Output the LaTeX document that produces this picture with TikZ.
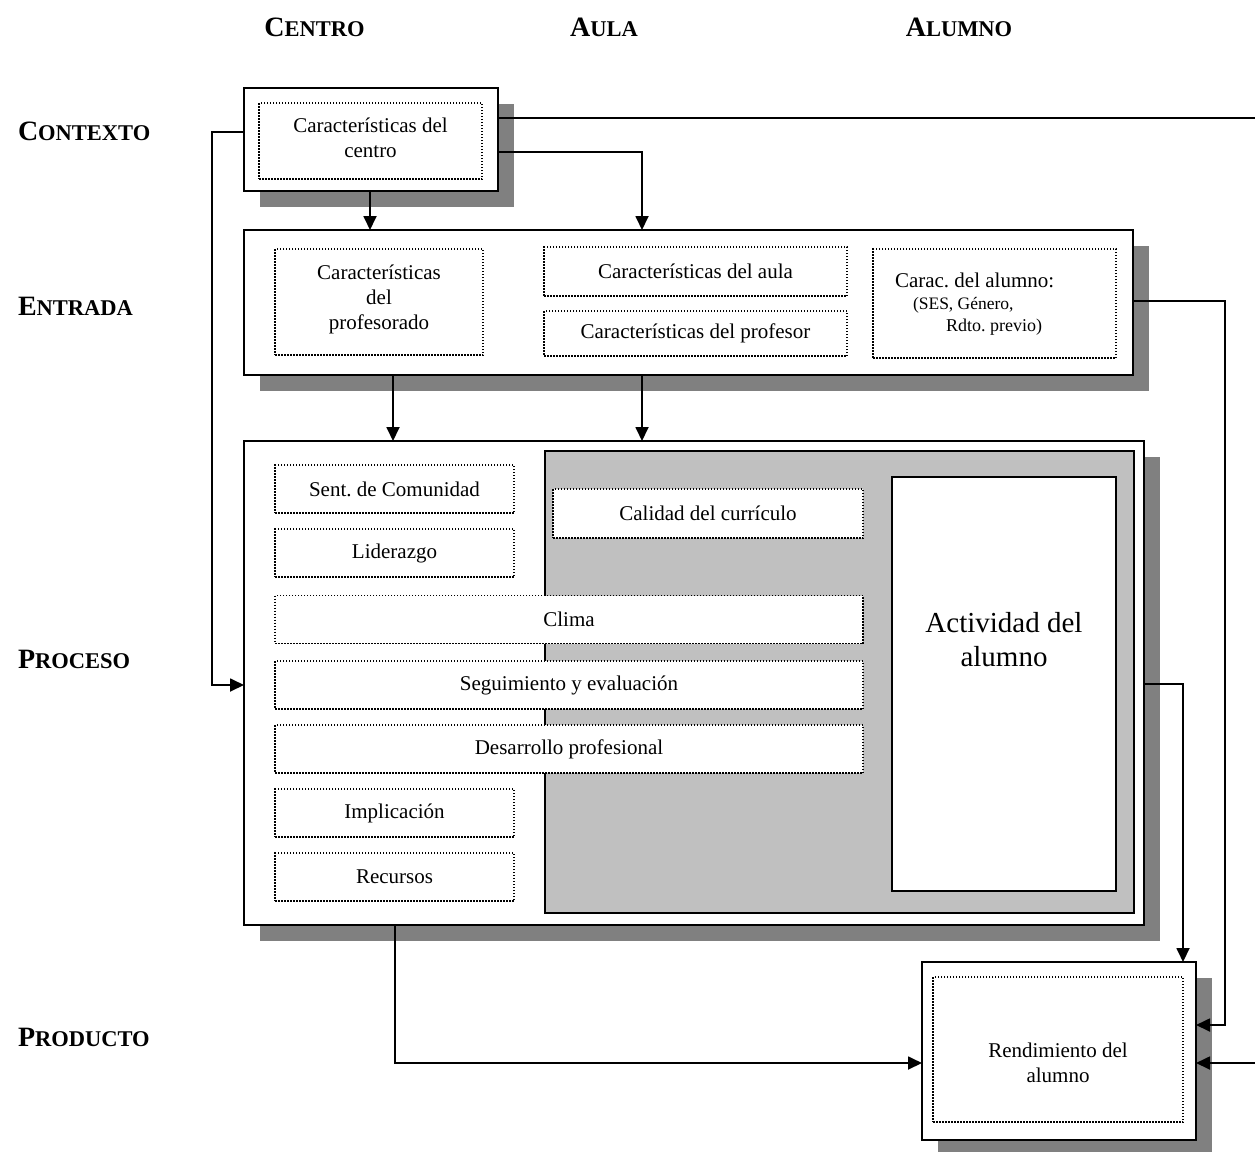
\documentclass[tikz,border=0pt]{standalone}
\usepackage{fontspec}
\setmainfont{Liberation Serif}
\usetikzlibrary{arrows.meta,shadows}

\definecolor{shade}{HTML}{808080}
\definecolor{panel}{HTML}{C0C0C0}

% bold caps with reduced-size trailing letters
\newcommand{\smc}[2]{{\bfseries\fontsize{28}{30}\selectfont #1\fontsize{22.5}{24}\selectfont #2}}
\newcommand{\boxfont}{\fontsize{21}{25}\selectfont}

\tikzset{
  every node/.style={inner sep=0pt, outer sep=0pt},
  frame/.style={draw, line width=2pt, fill=white,
    drop shadow={shadow xshift=16pt, shadow yshift=-16pt, fill=shade, opacity=1}},
  dotbox/.style={draw, line width=1.5pt, dash pattern=on 1.5pt off 1.5pt,
    fill=white, align=center, font=\boxfont},
  link/.style={line width=1.8pt},
  arr/.style={link, -{Triangle[length=14pt,width=13pt]}},
  heading/.style={anchor=base},
  rowlabel/.style={anchor=base west},
}

\begin{document}
\frenchspacing
\begin{tikzpicture}[x=1pt, y=-1pt]
\clip (0,0) rectangle (1255,1151);
\fill[white] (0,0) rectangle (1255,1151);

% column headings
\node[heading] (hcentro) at (314.5,36) {\smc{C}{ENTRO}};
\node[heading] (haula)   at (604,36)   {\smc{A}{ULA}};
\node[heading] (halumno) at (959,36)   {\smc{A}{LUMNO}};

% row headings
\node[rowlabel] (lctx)  at (18,140)  {\smc{C}{ONTEXTO}};
\node[rowlabel] (lent)  at (18,315)  {\smc{E}{NTRADA}};
\node[rowlabel] (lproc) at (18,668)  {\smc{P}{ROCESO}};
\node[rowlabel] (lprod) at (18,1046) {\smc{P}{RODUCTO}};

% context
\node[frame, minimum width=254pt, minimum height=103pt] (ctx) at (371,139.5) {};
\node[dotbox, minimum width=223pt, minimum height=76pt] (ctxin) at (370.5,141) {};
\node[align=center, font=\boxfont] (ctxtxt) at (370.5,138) {Características del\\centro};

% input
\node[frame, minimum width=889pt, minimum height=145pt] (entr) at (688.5,302.5) {};
\node[dotbox, minimum width=208pt, minimum height=106pt] (prof) at (379,302) {};
\node[align=center, font=\boxfont] (proftxt) at (379,299)
  {Características\\del\\profesorado};
\node[dotbox, minimum width=303pt, minimum height=49pt] (aula) at (695.5,271.5)
  {Características del aula};
\node[dotbox, minimum width=303pt, minimum height=45pt] (profe) at (695.5,333.5)
  {Características del profesor};
\node[dotbox, minimum width=243pt, minimum height=109pt] (alum) at (994.5,303.5) {};
\node[anchor=base west, font=\boxfont] (alum1) at (895,287) {Carac. del alumno:};
\node[anchor=base west, font=\fontsize{17.5}{20}\selectfont] (alum2) at (913,309) {(SES, Género,};
\node[anchor=base west, font=\fontsize{18}{20}\selectfont] (alum3) at (946,331) {Rdto. previo)};

% process
\node[frame, minimum width=900pt, minimum height=484pt] (proc) at (694,683) {};
\node[draw, line width=2pt, fill=panel, minimum width=589pt, minimum height=462pt] (pan) at (839.5,682) {};
\node[draw, line width=2pt, fill=white, minimum width=224pt, minimum height=414pt] (act) at (1004,684) {};
\node[align=center, font=\fontsize{29}{34}\selectfont] (acttxt) at (1004,640) {Actividad del\\alumno};

\node[dotbox, minimum width=239pt, minimum height=48pt] (sent) at (394.5,489) {Sent. de Comunidad};
\node[dotbox, minimum width=239pt, minimum height=48pt] (lid)  at (394.5,553) {Liderazgo};
\node[dotbox, minimum width=310pt, minimum height=49pt] (cal)  at (708,513.5) {Calidad del currículo};
\node[dotbox, minimum width=588pt, minimum height=48pt] (clima) at (569,619.5) {Clima};
\node[dotbox, minimum width=588pt, minimum height=48pt] (seg)  at (569,685) {Seguimiento y evaluación};
\node[dotbox, minimum width=588pt, minimum height=48pt] (des)  at (569,749) {Desarrollo profesional};
\node[dotbox, minimum width=239pt, minimum height=48pt] (imp)  at (394.5,813) {Implicación};
\node[dotbox, minimum width=239pt, minimum height=48pt] (rec)  at (394.5,877) {Recursos};

% product
\node[frame, minimum width=274pt, minimum height=178pt] (rend) at (1059,1051) {};
\node[dotbox, minimum width=250pt, minimum height=145pt] (rendin) at (1058,1049.5) {};
\node[align=center, font=\boxfont] (rendtxt) at (1058,1063) {Rendimiento del\\alumno};

% routing points
\coordinate (farA) at (1272,118);
\coordinate (farB) at (1272,1063);
\coordinate (c2) at (642,152);
\coordinate (c3) at (370,0);
\coordinate (l1) at (212,132);
\coordinate (l2) at (212,685);
\coordinate (d1) at (393,0);
\coordinate (d2) at (642,0);
\coordinate (e1) at (1225,301);
\coordinate (e2) at (1225,1025);
\coordinate (p1) at (1183,684);
\coordinate (b1) at (395,1063);

% connectors
\draw[arr] (ctx.east |- farA) -- (farA) -- (farB) -- (rend.east |- farB);
\draw[arr] (ctx.east |- c2) -| (entr.north -| c2);
\draw[arr] (ctx.south -| c3) -- (entr.north -| c3);
\draw[arr] (ctx.west |- l1) -- (l1) -- (l2) -- (proc.west |- l2);
\draw[arr] (entr.south -| d1) -- (proc.north -| d1);
\draw[arr] (entr.south -| d2) -- (proc.north -| d2);
\draw[arr] (entr.east |- e1) -- (e1) -- (e2) -- (rend.east |- e2);
\draw[arr] (proc.east |- p1) -| (rend.north -| p1);
\draw[arr] (proc.south -| b1) |- (rend.west |- b1);
\end{tikzpicture}
\end{document}
